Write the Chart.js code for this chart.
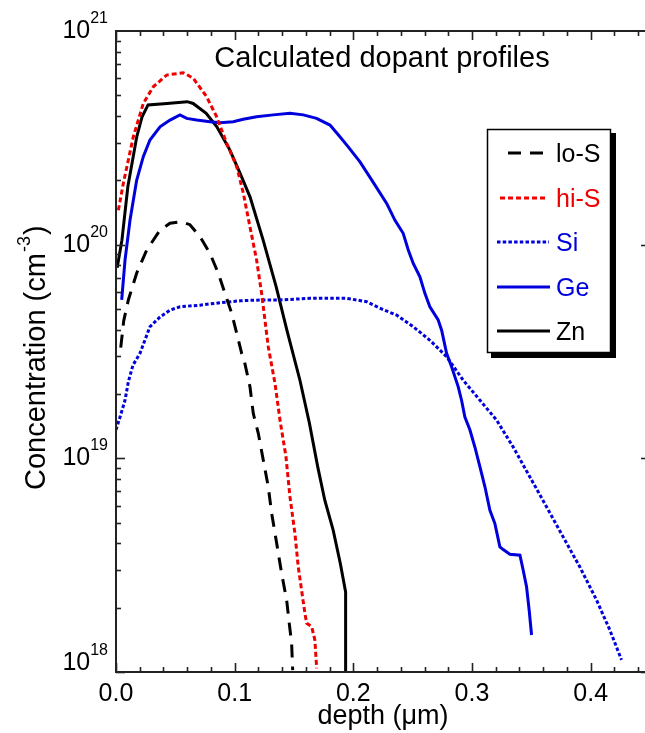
<!DOCTYPE html>
<html><head><meta charset="utf-8">
<script src="https://cdn.jsdelivr.net/npm/chart.js@4/dist/chart.umd.min.js"></script>
<style>html,body{margin:0;padding:0;background:#fff;overflow:hidden;width:645px;height:733px}</style>
</head><body>
<canvas id="c" width="652" height="733"></canvas>
<script>
// ---------- text ----------
const chartTitle = 'Calculated dopant profiles';
const xTitle = 'depth (\u03bcm)';
const yTitleMain = 'Concentration (cm';
const yTitleSup = '-3';
const yTitleEnd = ')';
const seriesNames = ['lo-S', 'hi-S', 'Si', 'Ge', 'Zn'];
const xTickValues = [0, 0.1, 0.2, 0.3, 0.4];
const yDecadeExponents = [18, 19, 20, 21];

// ---------- data (depth in um, concentration in cm^-3) ----------
const loS_depth = [0.004,0.0065,0.0104,0.0174,0.0259,0.0371,0.0455,0.0553,0.0623,0.0708,0.0792,0.0862,0.0918,0.0975,0.1017,0.1059,0.1086,0.1129,0.1157,0.1199,0.1241,0.1283,0.1312,0.1354,0.1396,0.1438,0.1460,0.1480,0.1489];
const loS_conc  = [3.3e19,4.4e19,5.51e19,7.35e19,9.44e19,1.17e20,1.26e20,1.28e20,1.24e20,1.09e20,9.1e19,7.35e19,5.92e19,4.77e19,3.85e19,3.10e19,2.78e19,2.16e19,1.62e19,1.31e19,9.82e18,7.36e18,5.52e18,4.0e18,2.89e18,2.17e18,1.69e18,1.36e18,1.02e18];

const hiS_depth = [0.002,0.0062,0.0146,0.023,0.0314,0.0427,0.0567,0.0651,0.0764,0.0848,0.0933,0.1017,0.1073,0.1129,0.1185,0.1227,0.1283,0.1340,0.1382,0.1432,0.1466,0.1508,0.1536,0.1592,0.1607,0.1649,0.1676,0.1691];
const hiS_conc  = [1.45e20,1.94e20,3.20e20,4.58e20,5.48e20,6.22e20,6.38e20,6.01e20,4.92e20,3.97e20,2.98e20,2.32e20,1.74e20,1.21e20,8.47e19,5.92e19,3.33e19,2.24e19,1.51e19,1.02e19,6.61e18,4.44e18,3.10e18,1.88e18,1.69e18,1.63e18,1.41e18,1.04e18];

const si_depth = [0.0,0.0034,0.0076,0.0104,0.0143,0.0202,0.0286,0.0371,0.0455,0.0539,0.0708,0.0876,0.1045,0.1213,0.1382,0.1634,0.1944,0.2112,0.2224,0.2365,0.2505,0.2645,0.2786,0.2926,0.3067,0.3207,0.3347,0.3488,0.3628,0.3768,0.3909,0.4050,0.4162,0.4260];
const si_conc  = [1.36e19,1.56e19,1.87e19,2.28e19,2.73e19,3.10e19,4.13e19,4.59e19,4.94e19,5.12e19,5.21e19,5.35e19,5.46e19,5.51e19,5.51e19,5.61e19,5.61e19,5.41e19,5.04e19,4.68e19,4.13e19,3.57e19,2.99e19,2.32e19,1.87e19,1.51e19,1.13e19,8.18e18,5.93e18,4.29e18,3.10e18,2.17e18,1.57e18,1.14e18];

const ge_depth = [0.0048,0.0076,0.0118,0.0174,0.023,0.0286,0.0371,0.0455,0.0539,0.0596,0.068,0.0792,0.0876,0.0988,0.1072,0.1185,0.1325,0.1466,0.1578,0.169,0.1803,0.1887,0.1957,0.2056,0.2157,0.2281,0.2351,0.242,0.2463,0.2505,0.2561,0.2603,0.2645,0.2715,0.2744,0.2786,0.2828,0.2884,0.2912,0.294,0.2982,0.3024,0.3067,0.3109,0.3151,0.3193,0.3235,0.3263,0.3319,0.3404,0.3431,0.346,0.3482,0.3502];
const ge_conc  = [5.51e19,8.47e19,1.30e20,2.0e20,2.58e20,3.09e20,3.56e20,3.83e20,4.05e20,3.90e20,3.83e20,3.76e20,3.72e20,3.76e20,3.86e20,3.97e20,4.05e20,4.12e20,4.05e20,3.90e20,3.63e20,3.20e20,2.87e20,2.44e20,2.0e20,1.56e20,1.30e20,1.13e20,9.44e19,8.17e19,7.08e19,5.92e19,5.12e19,4.44e19,3.98e19,3.10e19,2.68e19,2.16e19,1.87e19,1.56e19,1.36e19,1.13e19,9.12e18,7.36e18,5.71e18,4.95e18,3.85e18,3.74e18,3.56e18,3.52e18,3.0e18,2.50e18,1.94e18,1.49e18];

const zn_depth = [0.001,0.005,0.010,0.0175,0.022,0.027,0.043,0.060,0.065,0.076,0.085,0.096,0.1045,0.113,0.124,0.135,0.144,0.155,0.163,0.170,0.176,0.183,0.189,0.1935,0.1935];
const zn_conc  = [7.8e19,1.05e20,1.87e20,3.20e20,3.97e20,4.51e20,4.58e20,4.67e20,4.58e20,4.12e20,3.56e20,2.77e20,2.16e20,1.67e20,1.05e20,6.35e19,3.98e19,2.32e19,1.46e19,9.12e18,6.35e18,4.61e18,3.23e18,2.37e18,1.0e18];

// ---------- styling ----------
const RED = '#ee0000', BLUE = '#0000dd', BLACK = '#000000';
const FONT = 'Liberation Sans, Arial, sans-serif';

function pts(d, c) { return d.map((x, i) => ({ x: x, y: c[i] })); }
function ds(label, d, c, color, dash) {
  return { label: label, data: pts(d, c), borderColor: color, backgroundColor: color,
    borderWidth: 3, borderDash: dash, borderCapStyle: 'butt', pointRadius: 0,
    fill: false, tension: 0 };
}

const datasets = [
  ds(seriesNames[0], loS_depth, loS_conc, BLACK, [13, 9]),
  ds(seriesNames[1], hiS_depth, hiS_conc, RED, [5, 3]),
  ds(seriesNames[2], si_depth, si_conc, BLUE, [3.5, 2.2]),
  ds(seriesNames[3], ge_depth, ge_conc, BLUE, []),
  ds(seriesNames[4], zn_depth, zn_conc, BLACK, [])
];

const legendColors = [BLACK, RED, BLUE, BLUE, BLACK];
const legendLineX = [[508, 548], [500, 546], [497, 549], [497, 550], [497, 550]];

const decor = {
  id: 'decor',
  afterDraw(chart) {
    const ctx = chart.ctx, a = chart.chartArea, x = chart.scales.x, y = chart.scales.y;
    ctx.save();
    function seg(x1, y1, x2, y2) { ctx.beginPath(); ctx.moveTo(x1, y1); ctx.lineTo(x2, y2); ctx.stroke(); }
    // frame
    ctx.strokeStyle = '#222'; ctx.lineWidth = 2; ctx.setLineDash([]);
    ctx.strokeRect(a.left, a.top, a.right - a.left, a.bottom - a.top);
    // x ticks (bottom and top, inward)
    ctx.lineWidth = 1.6;
    for (let i = 0; i <= 30; i++) {
      const v = i * 0.02; if (v > x.max + 1e-9) break;
      const px = Math.round(x.getPixelForValue(v)) + 0.5;
      const len = (i % 5 === 0) ? 9 : 5;
      seg(px, a.bottom, px, a.bottom - len);
      seg(px, a.top, px, a.top + len);
    }
    // y ticks (left and right, inward)
    for (let e = yDecadeExponents[0]; e < yDecadeExponents[yDecadeExponents.length - 1]; e++) {
      for (let m = 1; m < 10; m++) {
        const py = Math.round(y.getPixelForValue(m * Math.pow(10, e))) + 0.5;
        const len = (m === 1) ? 9 : 5;
        seg(a.left, py, a.left + len, py);
        seg(a.right, py, a.right - len, py);
      }
    }
    // y tick labels 10^n
    ctx.fillStyle = '#000'; ctx.textBaseline = 'alphabetic';
    yDecadeExponents.forEach(e => {
      const py = y.getPixelForValue(Math.pow(10, e));
      const base = (e === yDecadeExponents[0]) ? py - 2 : py + 7;
      ctx.font = '16px ' + FONT; ctx.textAlign = 'right';
      const sup = String(e);
      const sw = ctx.measureText(sup).width;
      ctx.fillText(sup, 108, base - 15);
      ctx.font = '25px ' + FONT;
      ctx.fillText('10', 108 - sw, base);
    });
    // y title (rotated, with superscript)
    ctx.save();
    ctx.translate(45, 490);
    ctx.rotate(-Math.PI / 2);
    ctx.textAlign = 'left';
    ctx.font = '29px ' + FONT;
    ctx.fillText(yTitleMain, 0, 0);
    let w = ctx.measureText(yTitleMain).width;
    ctx.font = '18px ' + FONT;
    ctx.fillText(yTitleSup, w + 1, -15);
    w += ctx.measureText(yTitleSup).width + 2;
    ctx.font = '29px ' + FONT;
    ctx.fillText(yTitleEnd, w, 0);
    ctx.restore();
    // chart title
    ctx.font = '29px ' + FONT; ctx.textAlign = 'center';
    ctx.fillText(chartTitle, 382, 67);
    // legend box with shadow
    ctx.fillStyle = '#000';
    ctx.fillRect(491, 133, 125, 225);
    ctx.fillStyle = '#fff';
    ctx.fillRect(487, 129, 124, 224);
    ctx.strokeStyle = '#000'; ctx.lineWidth = 1.5;
    ctx.strokeRect(487.5, 129.5, 123, 223);
    const bases = [162, 207, 251, 296, 340];
    chart.data.datasets.forEach((d, i) => {
      const ly = bases[i] - 9;
      ctx.strokeStyle = d.borderColor; ctx.lineWidth = 3; ctx.lineCap = 'butt';
      ctx.setLineDash(d.borderDash || []);
      seg(legendLineX[i][0], ly, legendLineX[i][1], ly);
      ctx.setLineDash([]);
      ctx.fillStyle = legendColors[i];
      ctx.font = '25px ' + FONT; ctx.textAlign = 'left';
      ctx.fillText(d.label, 556, bases[i]);
    });
    ctx.restore();
  }
};

new Chart(document.getElementById('c'), {
  type: 'line',
  data: { datasets: datasets },
  options: {
    responsive: false, animation: false, devicePixelRatio: 1,
    layout: { padding: { top: 31, right: 2, left: 0, bottom: 0 } },
    plugins: { legend: { display: false }, tooltip: { enabled: false }, title: { display: false } },
    scales: {
      x: {
        type: 'linear', position: 'bottom', min: 0, max: 0.45,
        grid: { display: false, drawTicks: false }, border: { display: false },
        afterBuildTicks: s => { s.ticks = xTickValues.map(v => ({ value: v })); },
        ticks: { callback: v => Number(v).toFixed(1), font: { family: FONT, size: 25 }, color: '#000',
                 padding: 7, maxRotation: 0, autoSkip: false },
        title: { display: true, text: xTitle, font: { family: FONT, size: 27 }, color: '#000', padding: 0 },
        afterFit: s => { s.height = 61; }
      },
      y: {
        type: 'logarithmic', min: 1e18, max: 1e21,
        grid: { display: false, drawTicks: false }, border: { display: false },
        ticks: { display: false },
        afterFit: s => { s.width = 116; }
      }
    }
  },
  plugins: [decor]
});
</script>
</body></html>
